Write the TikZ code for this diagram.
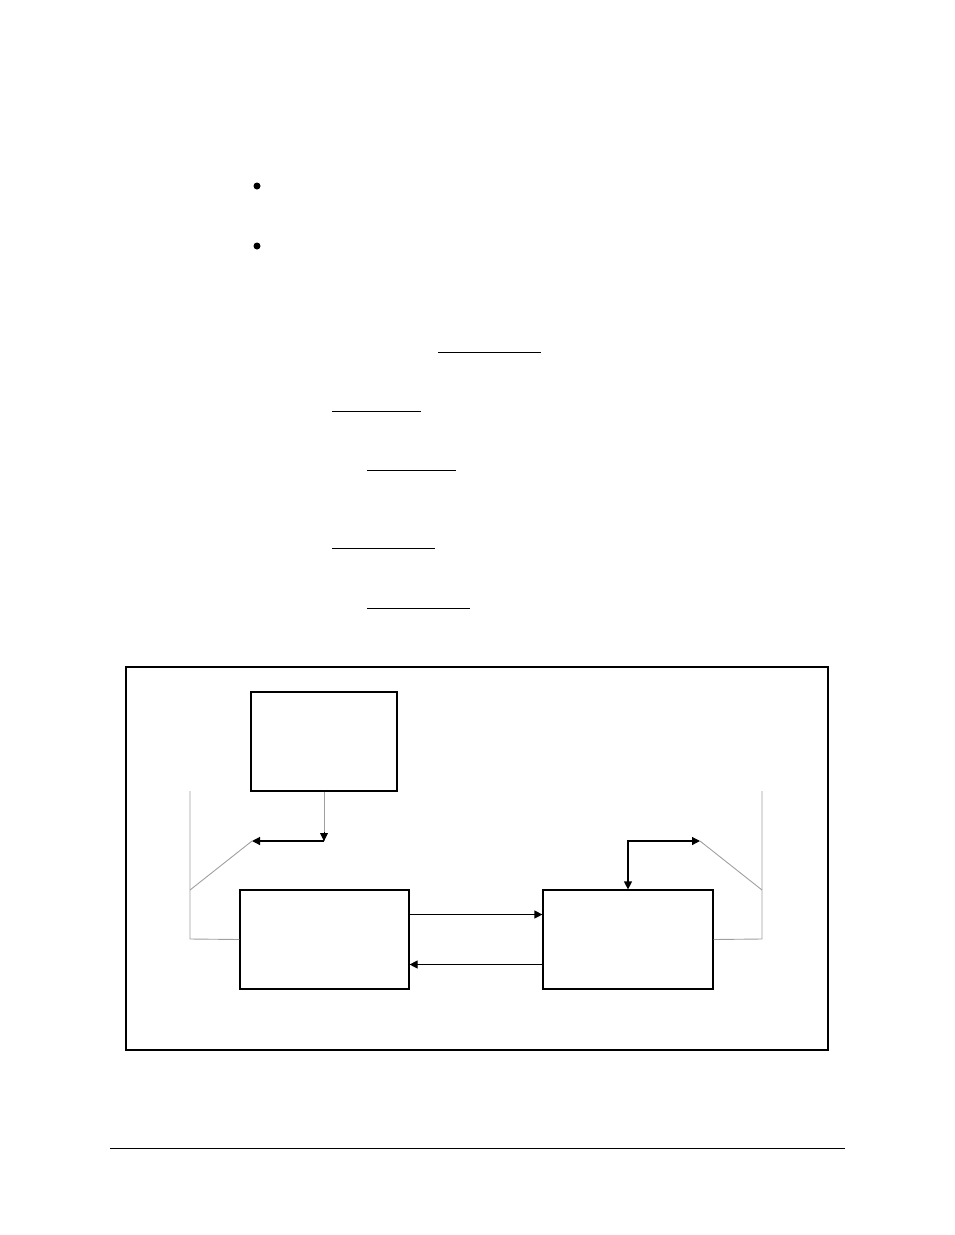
\documentclass[tikz,border=0pt]{standalone}
\usetikzlibrary{arrows.meta}
\tikzset{x=1pt,y=-1pt,
    block/.style={
        draw,
        line width=1.2pt,
        inner sep=0pt},
    frame/.style={
        draw,
        line width=1.1pt,
        inner sep=0pt,
        minimum width=702,
        minimum height=383},
    bullet/.style={
        circle,
        fill,
        inner sep=0pt,
        minimum size=7},
    guide/.style={
        draw=gray!75,
        line width=0.9pt},
    flow/.style={
        draw,
        -{Triangle[length=8pt,width=8pt]},
        line width=1.2pt},
    rule/.style={
        draw,
        line width=1pt}}
\begin{document}
\begin{tikzpicture}
        \useasboundingbox (0,0) rectangle (954,1235);

        \node[bullet] (b1) at (257,186) {};
        \node[bullet] (b2) at (257,246) {};

        \coordinate (u1a) at (438,352); \coordinate (u1b) at (541,352);
        \coordinate (u2a) at (332,411); \coordinate (u2b) at (421,411);
        \coordinate (u3a) at (367,470); \coordinate (u3b) at (456,470);
        \coordinate (u4a) at (332,548); \coordinate (u4b) at (435,548);
        \coordinate (u5a) at (367,608); \coordinate (u5b) at (470,608);
        \foreach \u in {1,...,5}
            \draw[rule] (u\u a) -- (u\u b);

        \node[frame] (fig) at (477,858.5) {};
        \node[block,minimum width=146,minimum height=99] (src) at (324,741.5) {};
        \node[block,minimum width=169,minimum height=99] (lft) at (324.5,939.5) {};
        \node[block,minimum width=170,minimum height=99] (rgt) at (628,939.5) {};

        \coordinate (lj) at (324,841);
        \coordinate (lt) at (252,841);
        \coordinate (lk) at (190,890);
        \coordinate (ltop) at (190,791);
        \coordinate (lbot) at (190,939);
        \coordinate (rj) at (628,841);
        \coordinate (rt) at (700,841);
        \coordinate (rk) at (762,890);
        \coordinate (rtop) at (762,791);
        \coordinate (rbot) at (762,939);

        % left side
        \draw[guide] (src.south) -- (lj);
        \draw[flow,line width=0.9pt] ([yshift=9]lj) -- (lj);
        \draw[flow] (lj) -- (lt);
        \draw[guide] (lt) -- (lk);
        \draw[guide] (ltop) -- (lbot) -- (lft.west);

        % right side
        \draw[flow] (rgt.north) ++(0,-49) -- (rgt.north);
        \draw[flow] (rj) -- (rt);
        \draw[guide] (rt) -- (rk);
        \draw[guide] (rtop) -- (rbot) -- (rgt.east);

        \draw[flow] ([yshift=25]lft.east) -- ([yshift=25]rgt.west);
        \draw[flow] ([yshift=-25]rgt.west) -- ([yshift=-25]lft.east);

        \draw[rule] (110,1148) -- (845,1148);
    \end{tikzpicture}
\end{document}
